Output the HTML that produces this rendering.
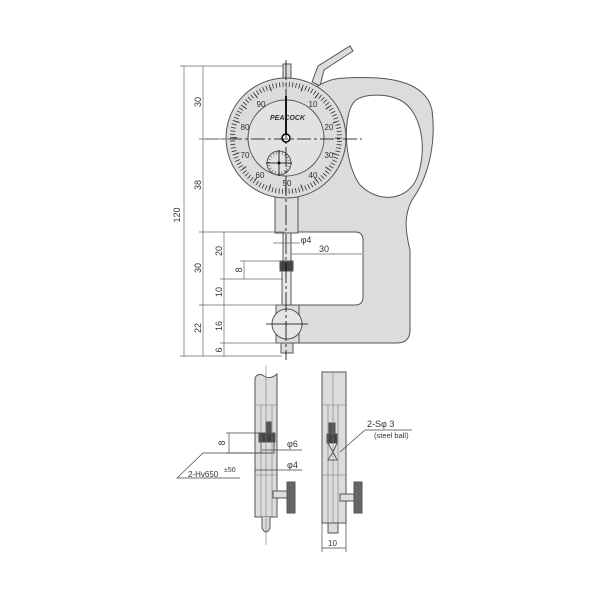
<!DOCTYPE html>
<html><head><meta charset="utf-8"><style>
html,body{margin:0;padding:0;background:#fff;}
svg{display:block;font-family:"Liberation Sans",sans-serif;}
text{fill:#333;}
</style></head><body>
<svg width="600" height="600" viewBox="0 0 600 600" xmlns="http://www.w3.org/2000/svg">
<g stroke="#555" stroke-width="1" fill="#dcdcdc">
<path d="M312,82 L318,66 L350,46 L353,51 L324,70 L320,86 Z"/>
<path fill-rule="evenodd" d="M300,100 C315,85 330,78 345,78 C380,76 425,78 432,110 C436,140 430,175 412,200 C404,215 405,230 410,250 L410,330 Q410,343 397,343 L299,343 L299,305 L355,305 Q363,305 363,297 L363,240 Q363,232 355,232 L298,232 L298,203 L300,100 Z M356,100 C343,110 342,160 360,185 C380,205 410,200 418,175 C428,145 420,110 400,100 C385,93 365,94 356,100 Z"/>
<rect x="275" y="195" width="23" height="38"/>
<rect x="276" y="305" width="23" height="38"/>
<rect x="281" y="343" width="12" height="10"/>
<rect x="283" y="64" width="8" height="14"/>
<circle cx="286" cy="138" r="60"/>
<circle cx="286" cy="138" r="38" fill="#e2e2e2"/>
<circle cx="279" cy="163" r="12" fill="#e2e2e2"/>
<rect x="283" y="233" width="8" height="28" fill="#e8e8e8"/>
<rect x="280" y="261" width="13" height="10" fill="#444"/>
<rect x="282" y="271" width="9" height="34" fill="#e8e8e8"/>
<circle cx="287" cy="324" r="15" fill="#e6e6e6"/>
</g>
<!-- ticks -->
<g transform="rotate(-90 286 138)" fill="none" stroke="#333">
<circle cx="286" cy="138" r="53.5" stroke-width="5" stroke-dasharray="0.8 2.5615" stroke-dashoffset="0.4"/>
<circle cx="286" cy="138" r="51" stroke-width="4" stroke-dasharray="1 15.0221" stroke-dashoffset="0.5"/>
</g>
<g transform="rotate(-90 279 163)" fill="none" stroke="#555">
<circle cx="279" cy="163" r="10" stroke-width="2.5" stroke-dasharray="0.6 2.54"/>
</g>
<circle cx="286" cy="138" r="4" fill="#fff" stroke="#000" stroke-width="1.5"/>
<line x1="286" y1="96" x2="286" y2="134" stroke="#000" stroke-width="1.8"/>
<circle cx="279" cy="163" r="1.5" fill="#000"/>
<text x="270" y="120" font-size="7" font-weight="bold" font-style="italic" fill="#222">PEACOCK</text>
<g font-size="8" text-anchor="middle">
<text x="313" y="107">10</text><text x="329" y="130">20</text><text x="329" y="158">30</text><text x="313" y="178">40</text><text x="287" y="186">50</text><text x="260" y="178">60</text><text x="245" y="158">70</text><text x="245" y="130">80</text><text x="261" y="107">90</text>
</g>
<g stroke="#000" stroke-width="0.8" fill="none">
<line x1="205" y1="139" x2="362" y2="139" stroke-dasharray="14,3,3,3"/>
<line x1="286" y1="60" x2="286" y2="360" stroke-dasharray="20,3,3,3"/>
<line x1="266" y1="163" x2="292" y2="163"/><line x1="279" y1="150" x2="279" y2="176"/>
<line x1="266" y1="324" x2="308" y2="324"/>
</g>
<g stroke="#666" stroke-width="0.7" fill="none">
<line x1="184" y1="66" x2="184" y2="356"/>
<line x1="203" y1="66" x2="203" y2="356"/>
<line x1="224" y1="232" x2="224" y2="356"/>
<line x1="180" y1="66" x2="283" y2="66"/>
<line x1="199" y1="139" x2="230" y2="139"/>
<line x1="199" y1="232" x2="285" y2="232"/>
<line x1="199" y1="305" x2="283" y2="305"/>
<line x1="220" y1="279" x2="283" y2="279"/>
<line x1="220" y1="343" x2="282" y2="343"/>
<line x1="180" y1="356" x2="282" y2="356"/>
<line x1="240" y1="261" x2="282" y2="261"/><line x1="244" y1="261" x2="244" y2="279"/>
<line x1="273" y1="243" x2="300" y2="243"/>
<line x1="291" y1="254" x2="362" y2="254"/>
</g>
<g font-size="9" text-anchor="middle">
<text transform="translate(180,215) rotate(-90)">120</text>
<text transform="translate(201,102) rotate(-90)">30</text>
<text transform="translate(201,185) rotate(-90)">38</text>
<text transform="translate(201,268) rotate(-90)">30</text>
<text transform="translate(201,328) rotate(-90)">22</text>
<text transform="translate(222,251) rotate(-90)">20</text>
<text transform="translate(222,292) rotate(-90)">10</text>
<text transform="translate(222,326) rotate(-90)">16</text>
<text transform="translate(222,350) rotate(-90)">6</text>
<text transform="translate(242,270) rotate(-90)">8</text>
<text x="306" y="243">φ4</text>
<text x="324" y="252">30</text>
</g>
<g stroke="#555" stroke-width="1" fill="#dcdcdc">
<path d="M255,378 Q258,372 264,376 Q270,380 277,374 L277,517 L255,517 Z"/>
<path d="M262,517 L262,528 Q266,536 270,528 L270,517"/>
<rect x="266" y="422" width="5" height="11" fill="#555"/>
<rect x="259" y="433" width="16" height="9" fill="#444"/>
<rect x="261" y="442" width="13" height="11"/>
<rect x="273" y="491" width="14" height="7"/>
<rect x="287" y="482" width="8" height="31" fill="#666"/>
<rect x="322" y="372" width="24" height="151"/>
<rect x="328" y="523" width="10" height="10"/>
<rect x="329" y="423" width="6" height="11" fill="#555"/>
<rect x="327" y="434" width="10" height="9" fill="#444"/>
<path d="M328,443 L337,443 L333,452 Z M333,452 L337,460 L328,460 Z" fill="#eee"/>
<rect x="340" y="494" width="14" height="7"/>
<rect x="354" y="482" width="8" height="31" fill="#666"/>
</g>
<g stroke="#777" stroke-width="0.6" fill="none">
<line x1="255" y1="405" x2="277" y2="405"/><line x1="255" y1="475" x2="277" y2="475"/>
<line x1="261" y1="405" x2="261" y2="517"/><line x1="272" y1="405" x2="272" y2="517"/>
<line x1="322" y1="405" x2="346" y2="405"/><line x1="322" y1="475" x2="346" y2="475"/>
<line x1="328" y1="405" x2="328" y2="523"/><line x1="338" y1="405" x2="338" y2="523"/>
<line x1="266" y1="365" x2="266" y2="545"/><line x1="333" y1="372" x2="333" y2="523"/>
</g>
<g stroke="#444" stroke-width="0.7" fill="none">
<line x1="226" y1="433" x2="262" y2="433"/><line x1="226" y1="453" x2="262" y2="453"/><line x1="229" y1="433" x2="229" y2="453"/>
<line x1="262" y1="450" x2="302" y2="450"/>
<line x1="255" y1="470" x2="302" y2="470"/>
<polyline points="262,453 203,453 177,478 240,478"/>
<polyline points="340,452 365,430 412,430"/>
<line x1="322" y1="523" x2="322" y2="552"/><line x1="346" y1="523" x2="346" y2="552"/>
<line x1="322" y1="548" x2="346" y2="548"/>
</g>
<g font-size="9">
<text transform="translate(225,443) rotate(-90)" text-anchor="middle">8</text>
<text x="287" y="447">φ6</text>
<text x="287" y="468">φ4</text>
<text x="188" y="477" font-size="8">2-Hv650</text>
<text x="224" y="472" font-size="7">±50</text>
<text x="367" y="427">2-Sφ 3</text>
<text x="374" y="438" font-size="7.5">(steel ball)</text>
<text x="328" y="546" font-size="8">10</text>
</g>
</svg>
</body></html>
